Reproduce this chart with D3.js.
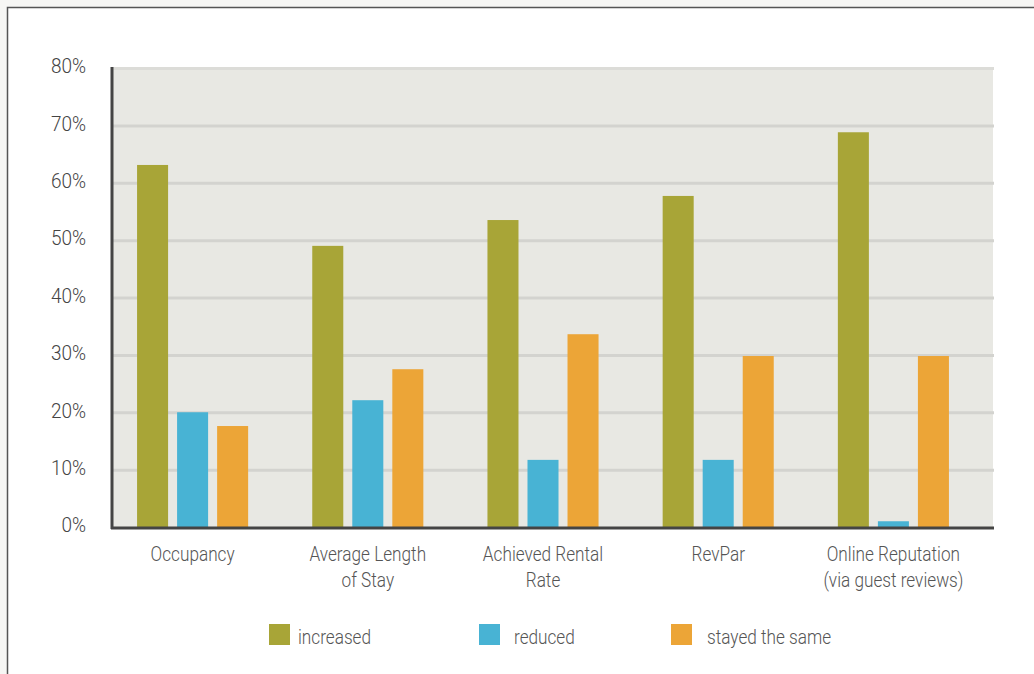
<!DOCTYPE html>
<html>
<head>
    <meta charset='utf-8'>
    <title>Performance change</title>
    <script src='https://d3js.org/d3.v7.min.js'></script>
    <style>
        body { margin: 0; background: #f6f6f4; }
        text { font-family: Roboto, 'Liberation Sans', sans-serif; font-weight: 300; }
    </style>
</head>
<body>
<div id='chart'></div>
<script type='text/javascript'>
    // dados
    const categories = ['Occupancy', 'Average Length\nof Stay', 'Achieved Rental\nRate', 'RevPar', 'Online Reputation\n(via guest reviews)'];
    const series = ['increased', 'reduced', 'stayed the same'];
    const increased = [63.1, 49.0, 53.5, 57.7, 68.8];
    const reduced = [20.0, 22.1, 11.7, 11.7, 1.0];
    const stayedSame = [17.6, 27.5, 33.6, 29.8, 29.8];
    const yTicks = [0, 10, 20, 30, 40, 50, 60, 70, 80];
    const colors = ['#a8a537', '#48b3d4', '#eca537'];

    const W = 1034, H = 674;
    const plot = {left: 111, right: 993, top: 67, bottom: 527};
    const K = 0.86; // fonte condensada: escala horizontal

    const svg = d3.select('#chart')
        .append('svg')
            .attr('width', W)
            .attr('height', H);

    // aplica a escala horizontal mantendo a posição x
    const condense = (sel, k) => {
        sel.each(function() {
            const t = d3.select(this);
            const x = +t.attr('x') || 0;
            t.attr('x', x / k).attr('transform', `scale(${k},1)`);
        });
    };

    // moldura
    svg.append('rect')
        .attr('x', 7.5).attr('y', 7.5)
        .attr('width', W).attr('height', H)
        .attr('fill', '#fff')
        .attr('stroke', '#555')
        .attr('stroke-width', 1.5);

    // fundo da área útil
    svg.append('rect')
        .attr('x', plot.left).attr('y', plot.top)
        .attr('width', plot.right - plot.left)
        .attr('height', plot.bottom - plot.top)
        .attr('fill', '#e8e8e3');

    const yScale = d3.scaleLinear()
        .domain([0, 80])
        .range([plot.bottom, plot.top + 1]);

    const x0 = d3.scaleBand()
        .domain(categories)
        .range([105, 981])
        .paddingInner(0.366)
        .paddingOuter(0.183);

    const x1 = d3.scaleBand()
        .domain(series)
        .range([0, x0.bandwidth()])
        .paddingInner(0.225);

    // linhas de grade
    const grid = svg.append('g')
        .attr('transform', `translate(${plot.left},0)`)
        .call(d3.axisRight(yScale).tickValues(yTicks.slice(1)).tickSize(plot.right - plot.left + 1).tickFormat(''));
    grid.select('.domain').remove();
    grid.selectAll('.tick line')
        .attr('stroke', '#d3d3cf')
        .attr('stroke-width', 3);
    grid.selectAll('.tick').filter(d => d === 80).select('line').attr('stroke', '#dcdcd8');

    // rótulos do eixo Y
    const yAxis = svg.append('g')
        .attr('transform', `translate(${plot.left},0)`)
        .call(d3.axisLeft(yScale).tickValues(yTicks).tickSize(0).tickPadding(25).tickFormat(d => d + '%'));
    yAxis.select('.domain').remove();
    yAxis.selectAll('text')
        .attr('font-size', '20px')
        .attr('fill', '#444')
        .attr('dy', '0.24em')
        .call(condense, 0.95);

    // barras
    const rows = categories.map((c, i) => ({cat: c, values: [increased[i], reduced[i], stayedSame[i]]}));

    const groups = svg.selectAll('.group')
        .data(rows)
        .enter()
        .append('g')
            .attr('class', 'group')
            .attr('transform', d => `translate(${x0(d.cat)},0)`);

    groups.selectAll('rect')
        .data(d => d.values.map((v, j) => ({key: series[j], value: v, j: j})))
        .enter()
        .append('rect')
            .attr('x', d => x1(d.key))
            .attr('y', d => yScale(d.value))
            .attr('width', x1.bandwidth())
            .attr('height', d => yScale(0) - yScale(d.value))
            .attr('fill', d => colors[d.j]);

    // eixos escuros
    svg.append('line')
        .attr('x1', plot.left + 1).attr('x2', plot.left + 1)
        .attr('y1', plot.top).attr('y2', plot.bottom + 2)
        .attr('stroke', '#444').attr('stroke-width', 3);
    svg.append('line')
        .attr('x1', plot.left).attr('x2', plot.right + 1)
        .attr('y1', plot.bottom + 1).attr('y2', plot.bottom + 1)
        .attr('stroke', '#444').attr('stroke-width', 3);

    // rótulos das categorias
    const xAxis = svg.append('g')
        .attr('transform', `translate(0,${plot.bottom})`)
        .call(d3.axisBottom(x0).tickSize(0).tickFormat(''));
    xAxis.select('.domain').remove();
    xAxis.selectAll('.tick text').remove();
    xAxis.selectAll('.tick')
        .append('text')
        .attr('text-anchor', 'middle')
        .attr('font-size', '20px')
        .attr('fill', '#555')
        .attr('transform', `scale(${K},1)`)
        .selectAll('tspan')
        .data(d => d.split('\n'))
        .enter()
        .append('tspan')
            .attr('x', 0)
            .attr('y', (d, i) => 34 + i * 26)
            .text(d => d);

    // legenda
    const legendX = [269, 479, 671];
    const legendTextX = [29, 35, 36];
    const legend = svg.selectAll('.legend')
        .data(series)
        .enter()
        .append('g')
            .attr('class', 'legend')
            .attr('transform', (d, i) => `translate(${legendX[i]},624)`);

    legend.append('rect')
        .attr('width', 21)
        .attr('height', 21)
        .attr('fill', (d, i) => colors[i]);

    legend.append('text')
        .attr('x', (d, i) => legendTextX[i])
        .attr('y', 20)
        .attr('font-size', '20px')
        .attr('fill', '#555')
        .text(d => d)
        .call(condense, K);
</script>
</body>
</html>
